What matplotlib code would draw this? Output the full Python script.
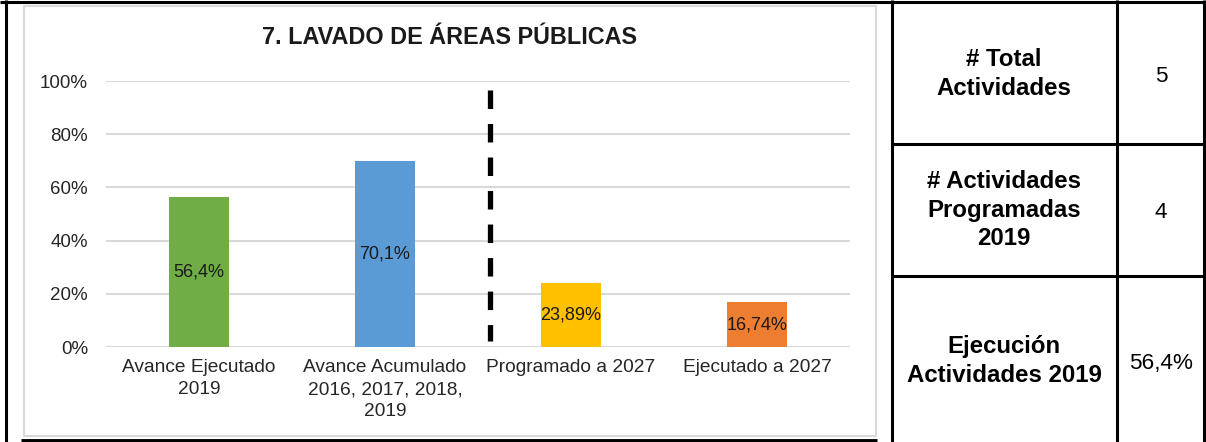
import matplotlib
matplotlib.use("Agg")
import matplotlib.pyplot as plt
from matplotlib.lines import Line2D
from matplotlib.patches import Rectangle

plt.rcParams['font.family'] = ['Liberation Sans', 'DejaVu Sans']

# data
categories = ['Avance Ejecutado\n2019', 'Avance Acumulado\n2016, 2017, 2018,\n2019',
              'Programado a 2027', 'Ejecutado a 2027']
values = [56.4, 70.1, 23.89, 16.74]
value_labels = ['56,4%', '70,1%', '23,89%', '16,74%']
bar_colors = ['#70AD47', '#5B9BD5', '#FFC000', '#ED7D31']
yticks = [0, 20, 40, 60, 80, 100]
title = '7. LAVADO DE ÁREAS PÚBLICAS'

table_labels = ['# Total\nActividades', '# Actividades\nProgramadas\n2019', 'Ejecución\nActividades 2019']
table_values = ['5', '4', '56,4%']

W, H = 1206, 442
fig = plt.figure(figsize=(W / 100, H / 100), dpi=100)


def fx(px):
    return px / W


def fy(py):
    return 1 - py / H


def hline(x0, x1, y, lw, color='black'):
    fig.add_artist(Line2D([fx(x0), fx(x1)], [fy(y), fy(y)], color=color, lw=lw,
                          solid_capstyle='butt'))


def vline(x, y0, y1, lw, color='black'):
    fig.add_artist(Line2D([fx(x), fx(x)], [fy(y0), fy(y1)], color=color, lw=lw,
                          solid_capstyle='butt'))


# chart frame (light gray) and outer black borders
fig.add_artist(Rectangle((fx(24), fy(436)), fx(876) - fx(24), fy(6) - fy(436),
                         fill=False, edgecolor='#D9D9D9', lw=1.5))
hline(0, W, 1.5, 2.2)
vline(5.5, 0, H, 2.2)
hline(21, 877, 441, 3.5)

# table on the right
vline(891.5, 0, H, 2.2)
vline(1117, 0, H, 2.2)
vline(1204, 0, H, 2.2)
hline(891, 1204, 144, 2.2)
hline(891, 1204, 276, 2.2)

row_centers = [74, 210, 361]
for lab, val, yc in zip(table_labels, table_values, row_centers):
    fig.text(fx(1004), fy(yc), lab, ha='center', va='center', fontsize=17.3,
             fontweight='bold', linespacing=1.28)
    fig.text(fx(1161), fy(yc + 2), val, ha='center', va='center', fontsize=16.2)

# bar chart
ax = fig.add_axes([fx(106), fy(347), fx(850) - fx(106), fy(81) - fy(347)])
x = list(range(len(categories)))
ax.bar(x, values, width=0.32, color=bar_colors, zorder=3)
for xi, v, lab in zip(x, values, value_labels):
    ax.text(xi, v / 2, lab, ha='center', va='center', fontsize=13, color='#1a1a1a',
            zorder=4)

ax.set_xlim(-0.5, len(categories) - 0.5)
ax.set_ylim(0, 100)
ax.set_yticks(yticks)
ax.set_yticklabels([f'{t}%' for t in yticks])
ax.set_xticks(x)
ax.set_xticklabels(categories, linespacing=1.35)
ax.tick_params(axis='y', length=0, pad=13, labelsize=13.5, labelcolor='#262626')
ax.tick_params(axis='x', length=0, pad=9, labelsize=13.8, labelcolor='#262626')
ax.grid(axis='y', color='#D9D9D9', lw=1.5, zorder=0)
for s in ax.spines.values():
    s.set_visible(False)

# separator dashed line between accumulated and 2027 bars
ax.plot([1.565, 1.565], [96.8, 2.1], color='black', lw=3.8, dashes=(3.5, 2.85),
        solid_capstyle='butt', dash_capstyle='butt', zorder=5)

fig.text(fx(450), fy(38), title, ha='center', va='center', fontsize=16.8,
         fontweight='bold', color='#1a1a1a')

fig.savefig('out.png', dpi=100)
